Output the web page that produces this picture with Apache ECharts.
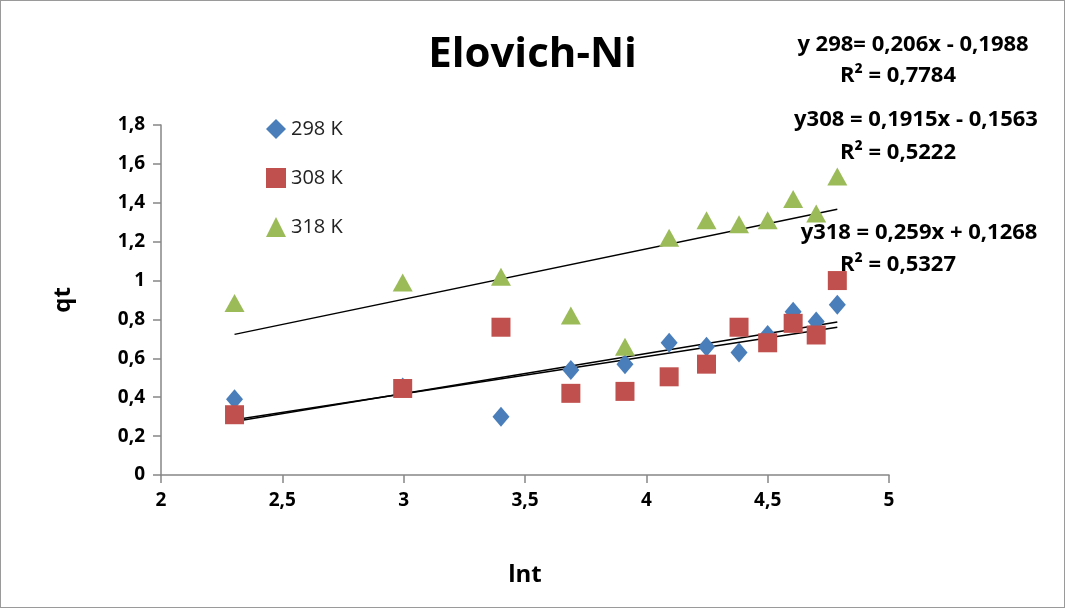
<!DOCTYPE html>
<html>
<head>
<meta charset="utf-8">
<script src="https://cdn.jsdelivr.net/npm/echarts@6/dist/echarts.min.js"></script>
<style>
  html, body { margin: 0; padding: 0; background: #fff; }
  #container1 { width: 1063px; height: 606px; border: 1px solid #9a9a9a; }
</style>
</head>
<body>
<div id="container1"></div>
<script>
// lnt values (ln of 10..120 min)
var lnt = [2.303, 2.996, 3.401, 3.689, 3.912, 4.094, 4.248, 4.382, 4.500, 4.605, 4.700, 4.787];
var qt298 = [0.39, 0.45, 0.30, 0.54, 0.57, 0.68, 0.66, 0.63, 0.72, 0.84, 0.79, 0.875];
var qt308 = [0.31, 0.445, 0.76, 0.42, 0.43, 0.505, 0.57, 0.76, 0.68, 0.78, 0.72, 1.00];
var qt318 = [0.885, 0.99, 1.02, 0.82, 0.66, 1.22, 1.31, 1.29, 1.31, 1.42, 1.345, 1.535];
var seriesNames = ['298 K', '308 K', '318 K'];
// linear fits: slope, intercept
var slopes = [0.206, 0.1915, 0.259];
var intercepts = [-0.1988, -0.1563, 0.1268];
var eqLines = ['y 298= 0,206x - 0,1988', 'y308 = 0,1915x - 0,1563', 'y318 = 0,259x + 0,1268'];
var r2Lines = ['R² = 0,7784', 'R² = 0,5222', 'R² = 0,5327'];

var dom = document.getElementById("container1");
var myChart = echarts.init(dom);

function pairs(xs, ys) {
    return xs.map(function (x, i) { return [x, ys[i]]; });
}
function trend(k) {
    var x0 = lnt[0], x1 = lnt[lnt.length - 1];
    return [[x0, slopes[k] * x0 + intercepts[k]], [x1, slopes[k] * x1 + intercepts[k]]];
}
function comma(v) { return String(v).replace('.', ','); }

var font = '"Open Sans", "Liberation Sans", sans-serif';
var colors = ['#4A7EBB', '#C0504D', '#9BBB59'];
var symbols = ['diamond', 'rect', 'triangle'];
var sizes = [[17, 20], [19, 19], [20, 18]];
var qts = [qt298, qt308, qt318];

var series = [];
// trendlines first so the markers sit on top
for (var k = 0; k < 3; k++) {
    series.push({
        name: 'trend' + k,
        type: 'line',
        data: trend(k),
        showSymbol: false,
        silent: true,
        lineStyle: { color: '#000', width: 1.5 },
        z: 1
    });
}
for (var k = 0; k < 3; k++) {
    series.push({
        name: seriesNames[k],
        type: 'scatter',
        data: pairs(lnt, qts[k]),
        symbol: symbols[k],
        symbolSize: sizes[k],
        itemStyle: { color: colors[k], opacity: 1 },
        z: 3
    });
}

// equation labels (centre x, centre y of eq line, of R² line)
var eqPos = [[912, 44, 897, 75], [915, 119, 897, 152], [918, 232, 897, 264]];
var graphics = [];
for (var k = 0; k < 3; k++) {
    graphics.push({
        type: 'text', x: eqPos[k][0], y: eqPos[k][1], z: 10,
        style: { text: eqLines[k], font: 'bold 22px ' + font, fill: '#000',
                 align: 'center', verticalAlign: 'middle' }
    });
    graphics.push({
        type: 'text', x: eqPos[k][2], y: eqPos[k][3], z: 10,
        style: { text: r2Lines[k], font: 'bold 22px ' + font, fill: '#000',
                 align: 'center', verticalAlign: 'middle' }
    });
}

option = {
    animation: false,
    backgroundColor: '#fff',
    title: {
        text: 'Elovich-Ni',
        left: 'center',
        top: 28,
        textStyle: { fontFamily: font, fontSize: 42, fontWeight: 'bold', color: '#000' }
    },
    legend: {
        data: seriesNames,
        orient: 'vertical',
        left: 260,
        top: 113,
        itemGap: 29,
        itemWidth: 20,
        itemHeight: 20,
        textStyle: { fontFamily: font, fontSize: 20, color: '#222' }
    },
    grid: { left: 160, right: 175, top: 124, bottom: 132, containLabel: false },
    xAxis: {
        type: 'value',
        min: 2, max: 5, interval: 0.5,
        name: 'lnt',
        nameLocation: 'middle',
        nameGap: 88,
        nameTextStyle: { fontFamily: font, fontSize: 24, fontWeight: 'bold', color: '#000' },
        axisLine: { lineStyle: { color: '#868686', width: 1.5 } },
        axisTick: { show: true, length: 8, lineStyle: { color: '#868686', width: 1.5 } },
        axisLabel: { formatter: comma, fontFamily: font, fontSize: 19, fontWeight: 'bold', color: '#000', margin: 16 },
        splitLine: { show: false }
    },
    yAxis: {
        type: 'value',
        min: 0, max: 1.8, interval: 0.2,
        name: 'qt',
        nameLocation: 'middle',
        nameGap: 86,
        nameRotate: 90,
        nameTextStyle: { fontFamily: font, fontSize: 24, fontWeight: 'bold', color: '#000' },
        axisLine: { show: true, lineStyle: { color: '#868686', width: 1.5 } },
        axisTick: { show: true, length: 8, lineStyle: { color: '#868686', width: 1.5 } },
        axisLabel: { formatter: comma, fontFamily: font, fontSize: 19, fontWeight: 'bold', color: '#000', margin: 16 },
        splitLine: { show: false }
    },
    graphic: graphics,
    series: series
};

if (option && typeof option === "object") {
    myChart.setOption(option, true);
}
</script>
</body>
</html>
